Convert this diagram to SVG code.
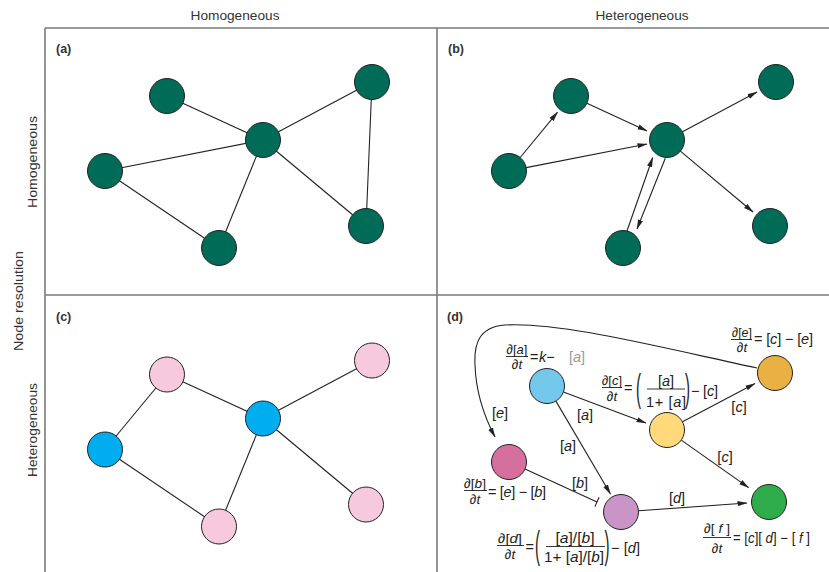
<svg xmlns="http://www.w3.org/2000/svg" width="829" height="572" viewBox="0 0 829 572">
<style>
text{font-family:"Liberation Sans",Arial,sans-serif;fill:#222}
.hdr{font-size:13px;fill:#333;text-anchor:middle}
.lbl{font-size:12.5px;font-weight:bold;fill:#333}
.eq{font-size:14.5px}
.fr{font-size:13.5px}
.m{text-anchor:middle}
.i{font-style:italic}
.frame{stroke:#7a7a7a;stroke-width:1.6;fill:none}
.edge{stroke:#222;stroke-width:1.1;fill:none}
.arr{marker-end:url(#ah)}
.bar{stroke:#222;stroke-width:0.9}
circle{stroke:#222;stroke-width:1}
.g{fill:#006B56}
.pk{fill:#F6C9DD}
.bl{fill:#00AEEF}
</style>
<defs>
<marker id="ah" markerUnits="userSpaceOnUse" markerWidth="10" markerHeight="6" refX="9.5" refY="3" orient="auto">
<path d="M0,0.4 L10,3 L0,5.6 z" fill="#222"/>
</marker>
</defs>
<rect width="829" height="572" fill="#fff"/>

<g id="frame">
<line class="frame" x1="45" y1="28" x2="829" y2="28"/>
<line class="frame" x1="45" y1="28" x2="45" y2="572"/>
<line class="frame" x1="437" y1="28" x2="437" y2="572"/>
<line class="frame" x1="45" y1="295" x2="829" y2="295"/>
</g>

<g id="headers">
<text class="hdr" x="235" y="20" textLength="89" lengthAdjust="spacingAndGlyphs">Homogeneous</text>
<text class="hdr" x="642" y="20" textLength="93" lengthAdjust="spacingAndGlyphs">Heterogeneous</text>
<text class="hdr" transform="translate(37,162) rotate(-90)" textLength="92" lengthAdjust="spacingAndGlyphs">Homogeneous</text>
<text class="hdr" transform="translate(22.5,301) rotate(-90)" textLength="100" lengthAdjust="spacingAndGlyphs">Node resolution</text>
<text class="hdr" transform="translate(37,430) rotate(-90)" textLength="94" lengthAdjust="spacingAndGlyphs">Heterogeneous</text>
<text class="lbl" x="56" y="53">(a)</text>
<text class="lbl" x="448" y="53">(b)</text>
<text class="lbl" x="56" y="321">(c)</text>
<text class="lbl" x="447" y="321">(d)</text>
</g>

<g id="connectors">
<!-- panel a -->
<line class="edge" x1="167" y1="96" x2="263" y2="140"/>
<line class="edge" x1="263" y1="140" x2="372" y2="82"/>
<line class="edge" x1="372" y1="82" x2="366" y2="226"/>
<line class="edge" x1="263" y1="140" x2="366" y2="226"/>
<line class="edge" x1="263" y1="140" x2="105" y2="171"/>
<line class="edge" x1="263" y1="140" x2="219" y2="248"/>
<line class="edge" x1="105" y1="171" x2="219" y2="248"/>
<!-- panel b -->
<line class="edge arr" x1="520.2" y1="157.5" x2="557.6" y2="112.2"/>
<line class="edge arr" x1="586.9" y1="103.3" x2="647" y2="130.9"/>
<line class="edge arr" x1="526.2" y1="167.6" x2="647" y2="144"/>
<line class="edge arr" x1="682.5" y1="131.8" x2="757" y2="92"/>
<line class="edge arr" x1="680.4" y1="151.2" x2="753" y2="212"/>
<line class="edge arr" x1="626.7" y1="231.7" x2="652.7" y2="157.5"/>
<line class="edge arr" x1="665.3" y1="158.3" x2="637" y2="229"/>
<!-- panel c -->
<line class="edge" x1="167" y1="374.5" x2="263" y2="418.5"/>
<line class="edge" x1="167" y1="374.5" x2="105" y2="449.5"/>
<line class="edge" x1="263" y1="418.5" x2="372" y2="360.5"/>
<line class="edge" x1="263" y1="418.5" x2="366" y2="504.5"/>
<line class="edge" x1="263" y1="418.5" x2="219" y2="526.5"/>
<line class="edge" x1="105" y1="449.5" x2="219" y2="526.5"/>
<!-- panel d -->
<path class="edge arr" d="M757,368 C650,345 560,322 505,325 C478,327 474,345 475,365 C476,395 486,420 495,437"/>
<line class="edge arr" x1="563.4" y1="392" x2="646" y2="423"/>
<line class="edge arr" x1="682.5" y1="421.8" x2="755" y2="383.5"/>
<line class="edge arr" x1="555.9" y1="401.1" x2="610.5" y2="494"/>
<line class="edge" x1="525" y1="469.1" x2="597" y2="501.9"/>
<line class="edge" x1="594.9" y1="506.6" x2="599.1" y2="497.2"/>
<line class="edge arr" x1="681.3" y1="440.1" x2="748.6" y2="487.6"/>
<line class="edge arr" x1="638.5" y1="510.8" x2="747" y2="503"/>
<g id="edge-labels">
<text class="eq m" x="500" y="418">[<tspan class="i">e</tspan>]</text>
<text class="eq m" x="585" y="420">[<tspan class="i">a</tspan>]</text>
<text class="eq m" x="739" y="412">[<tspan class="i">c</tspan>]</text>
<text class="eq m" x="568" y="451">[<tspan class="i">a</tspan>]</text>
<text class="eq m" x="580" y="488">[<tspan class="i">b</tspan>]</text>
<text class="eq m" x="725" y="462">[<tspan class="i">c</tspan>]</text>
<text class="eq m" x="677" y="503">[<tspan class="i">d</tspan>]</text>
</g>
</g>

<g id="nodes-a">
<g id="a1"><circle class="g" cx="167" cy="96" r="17.5"/></g>
<g id="a2"><circle class="g" cx="372" cy="82" r="17.5"/></g>
<g id="a3"><circle class="g" cx="263" cy="140" r="17.5"/></g>
<g id="a4"><circle class="g" cx="105" cy="171" r="17.5"/></g>
<g id="a5"><circle class="g" cx="219" cy="248" r="17.5"/></g>
<g id="a6"><circle class="g" cx="366" cy="226" r="17.5"/></g>
</g>
<g id="nodes-b">
<g id="b1"><circle class="g" cx="571" cy="96" r="17.5"/></g>
<g id="b2"><circle class="g" cx="776" cy="82" r="17.5"/></g>
<g id="b3"><circle class="g" cx="667" cy="140" r="17.5"/></g>
<g id="b4"><circle class="g" cx="509" cy="171" r="17.5"/></g>
<g id="b5"><circle class="g" cx="623" cy="248" r="17.5"/></g>
<g id="b6"><circle class="g" cx="770" cy="226" r="17.5"/></g>
</g>
<g id="nodes-c">
<g id="c1"><circle class="pk" cx="167" cy="374.5" r="17.5"/></g>
<g id="c2"><circle class="pk" cx="372" cy="360.5" r="17.5"/></g>
<g id="c3"><circle class="bl" cx="263" cy="418.5" r="17.5"/></g>
<g id="c4"><circle class="bl" cx="105" cy="449.5" r="17.5"/></g>
<g id="c5"><circle class="pk" cx="219" cy="526.5" r="17.5"/></g>
<g id="c6"><circle class="pk" cx="366" cy="504.5" r="17.5"/></g>
</g>

<g id="nodes-d">
<g id="node-a">
<circle cx="547" cy="386" r="17.5" fill="#74C8EC"/>
<text class="fr m" x="517" y="353.5" textLength="21" lengthAdjust="spacingAndGlyphs">∂[<tspan class="i">a</tspan>]</text>
<line class="bar" x1="506" y1="356.5" x2="528" y2="356.5"/>
<text class="fr m" x="517" y="369">∂<tspan class="i">t</tspan></text>
<text class="eq" x="530" y="362">=</text>
<text class="eq" x="539" y="362"><tspan class="i">k</tspan>−</text>
<text class="eq" x="569" y="362" style="fill:#9a9a9a">[<tspan class="i">a</tspan>]</text>
</g>
<g id="node-c">
<circle cx="667" cy="430" r="17.5" fill="#FFD97A"/>
<text class="fr m" x="612" y="384.5" textLength="20" lengthAdjust="spacingAndGlyphs">∂[<tspan class="i">c</tspan>]</text>
<line class="bar" x1="602" y1="387.5" x2="622" y2="387.5"/>
<text class="fr m" x="612" y="400.5">∂<tspan class="i">t</tspan></text>
<text class="eq" x="624" y="393">=</text>
<text class="eq" transform="translate(636,401) scale(1,2.6)" style="font-size:15px">(</text>
<text class="eq m" x="666" y="386">[<tspan class="i">a</tspan>]</text>
<line class="bar" x1="647" y1="389" x2="685" y2="389"/>
<text class="eq m" x="666" y="407" textLength="40">1+ [<tspan class="i">a</tspan>]</text>
<text class="eq" transform="translate(685,401) scale(1,2.6)" style="font-size:15px">)</text>
<text class="eq" x="691" y="396" textLength="27">− [<tspan class="i">c</tspan>]</text>
</g>
<g id="node-e">
<circle cx="775" cy="373" r="17.5" fill="#E9B143"/>
<text class="fr m" x="742" y="336.5" textLength="20" lengthAdjust="spacingAndGlyphs">∂[<tspan class="i">e</tspan>]</text>
<line class="bar" x1="731" y1="339.5" x2="752" y2="339.5"/>
<text class="fr m" x="742" y="352">∂<tspan class="i">t</tspan></text>
<text class="eq" x="754" y="344" textLength="59">= [<tspan class="i">c</tspan>] − [<tspan class="i">e</tspan>]</text>
</g>
<g id="node-b">
<circle cx="509" cy="462" r="17.5" fill="#D5709E"/>
<text class="fr m" x="475" y="487.5" textLength="22" lengthAdjust="spacingAndGlyphs">∂[<tspan class="i">b</tspan>]</text>
<line class="bar" x1="464" y1="490.5" x2="487" y2="490.5"/>
<text class="fr m" x="475" y="504">∂<tspan class="i">t</tspan></text>
<text class="eq" x="488" y="497" textLength="58">= [<tspan class="i">e</tspan>] − [<tspan class="i">b</tspan>]</text>
</g>
<g id="node-d">
<circle cx="621" cy="512" r="17.5" fill="#C995C7"/>
<text class="fr m" x="510" y="542.5" textLength="24" lengthAdjust="spacingAndGlyphs">∂[<tspan class="i">d</tspan>]</text>
<line class="bar" x1="497" y1="545.5" x2="524" y2="545.5"/>
<text class="fr m" x="510" y="559">∂<tspan class="i">t</tspan></text>
<text class="eq" x="525.5" y="552">=</text>
<text class="eq" transform="translate(535,558) scale(1,2.6)" style="font-size:15px">(</text>
<text class="eq m" x="575" y="543" textLength="39" lengthAdjust="spacingAndGlyphs">[<tspan class="i">a</tspan>]/[<tspan class="i">b</tspan>]</text>
<line class="bar" x1="546" y1="546.5" x2="605" y2="546.5"/>
<text class="eq m" x="574" y="562" textLength="60" lengthAdjust="spacingAndGlyphs">1+ [<tspan class="i">a</tspan>]/[<tspan class="i">b</tspan>]</text>
<text class="eq" transform="translate(604.5,558) scale(1,2.6)" style="font-size:15px">)</text>
<text class="eq" x="611" y="553" textLength="29">− [<tspan class="i">d</tspan>]</text>
</g>
<g id="node-f">
<circle cx="769" cy="502" r="17.5" fill="#2EAB4B"/>
<text class="fr m" x="717" y="533" textLength="26" lengthAdjust="spacingAndGlyphs">∂[ <tspan class="i">f</tspan> ]</text>
<line class="bar" x1="703" y1="537.5" x2="731" y2="537.5"/>
<text class="fr m" x="717" y="553">∂<tspan class="i">t</tspan></text>
<text class="eq" x="733" y="543" textLength="77" lengthAdjust="spacingAndGlyphs">= [<tspan class="i">c</tspan>][ <tspan class="i">d</tspan>] − [ <tspan class="i">f</tspan> ]</text>
</g>
</g>
</svg>
